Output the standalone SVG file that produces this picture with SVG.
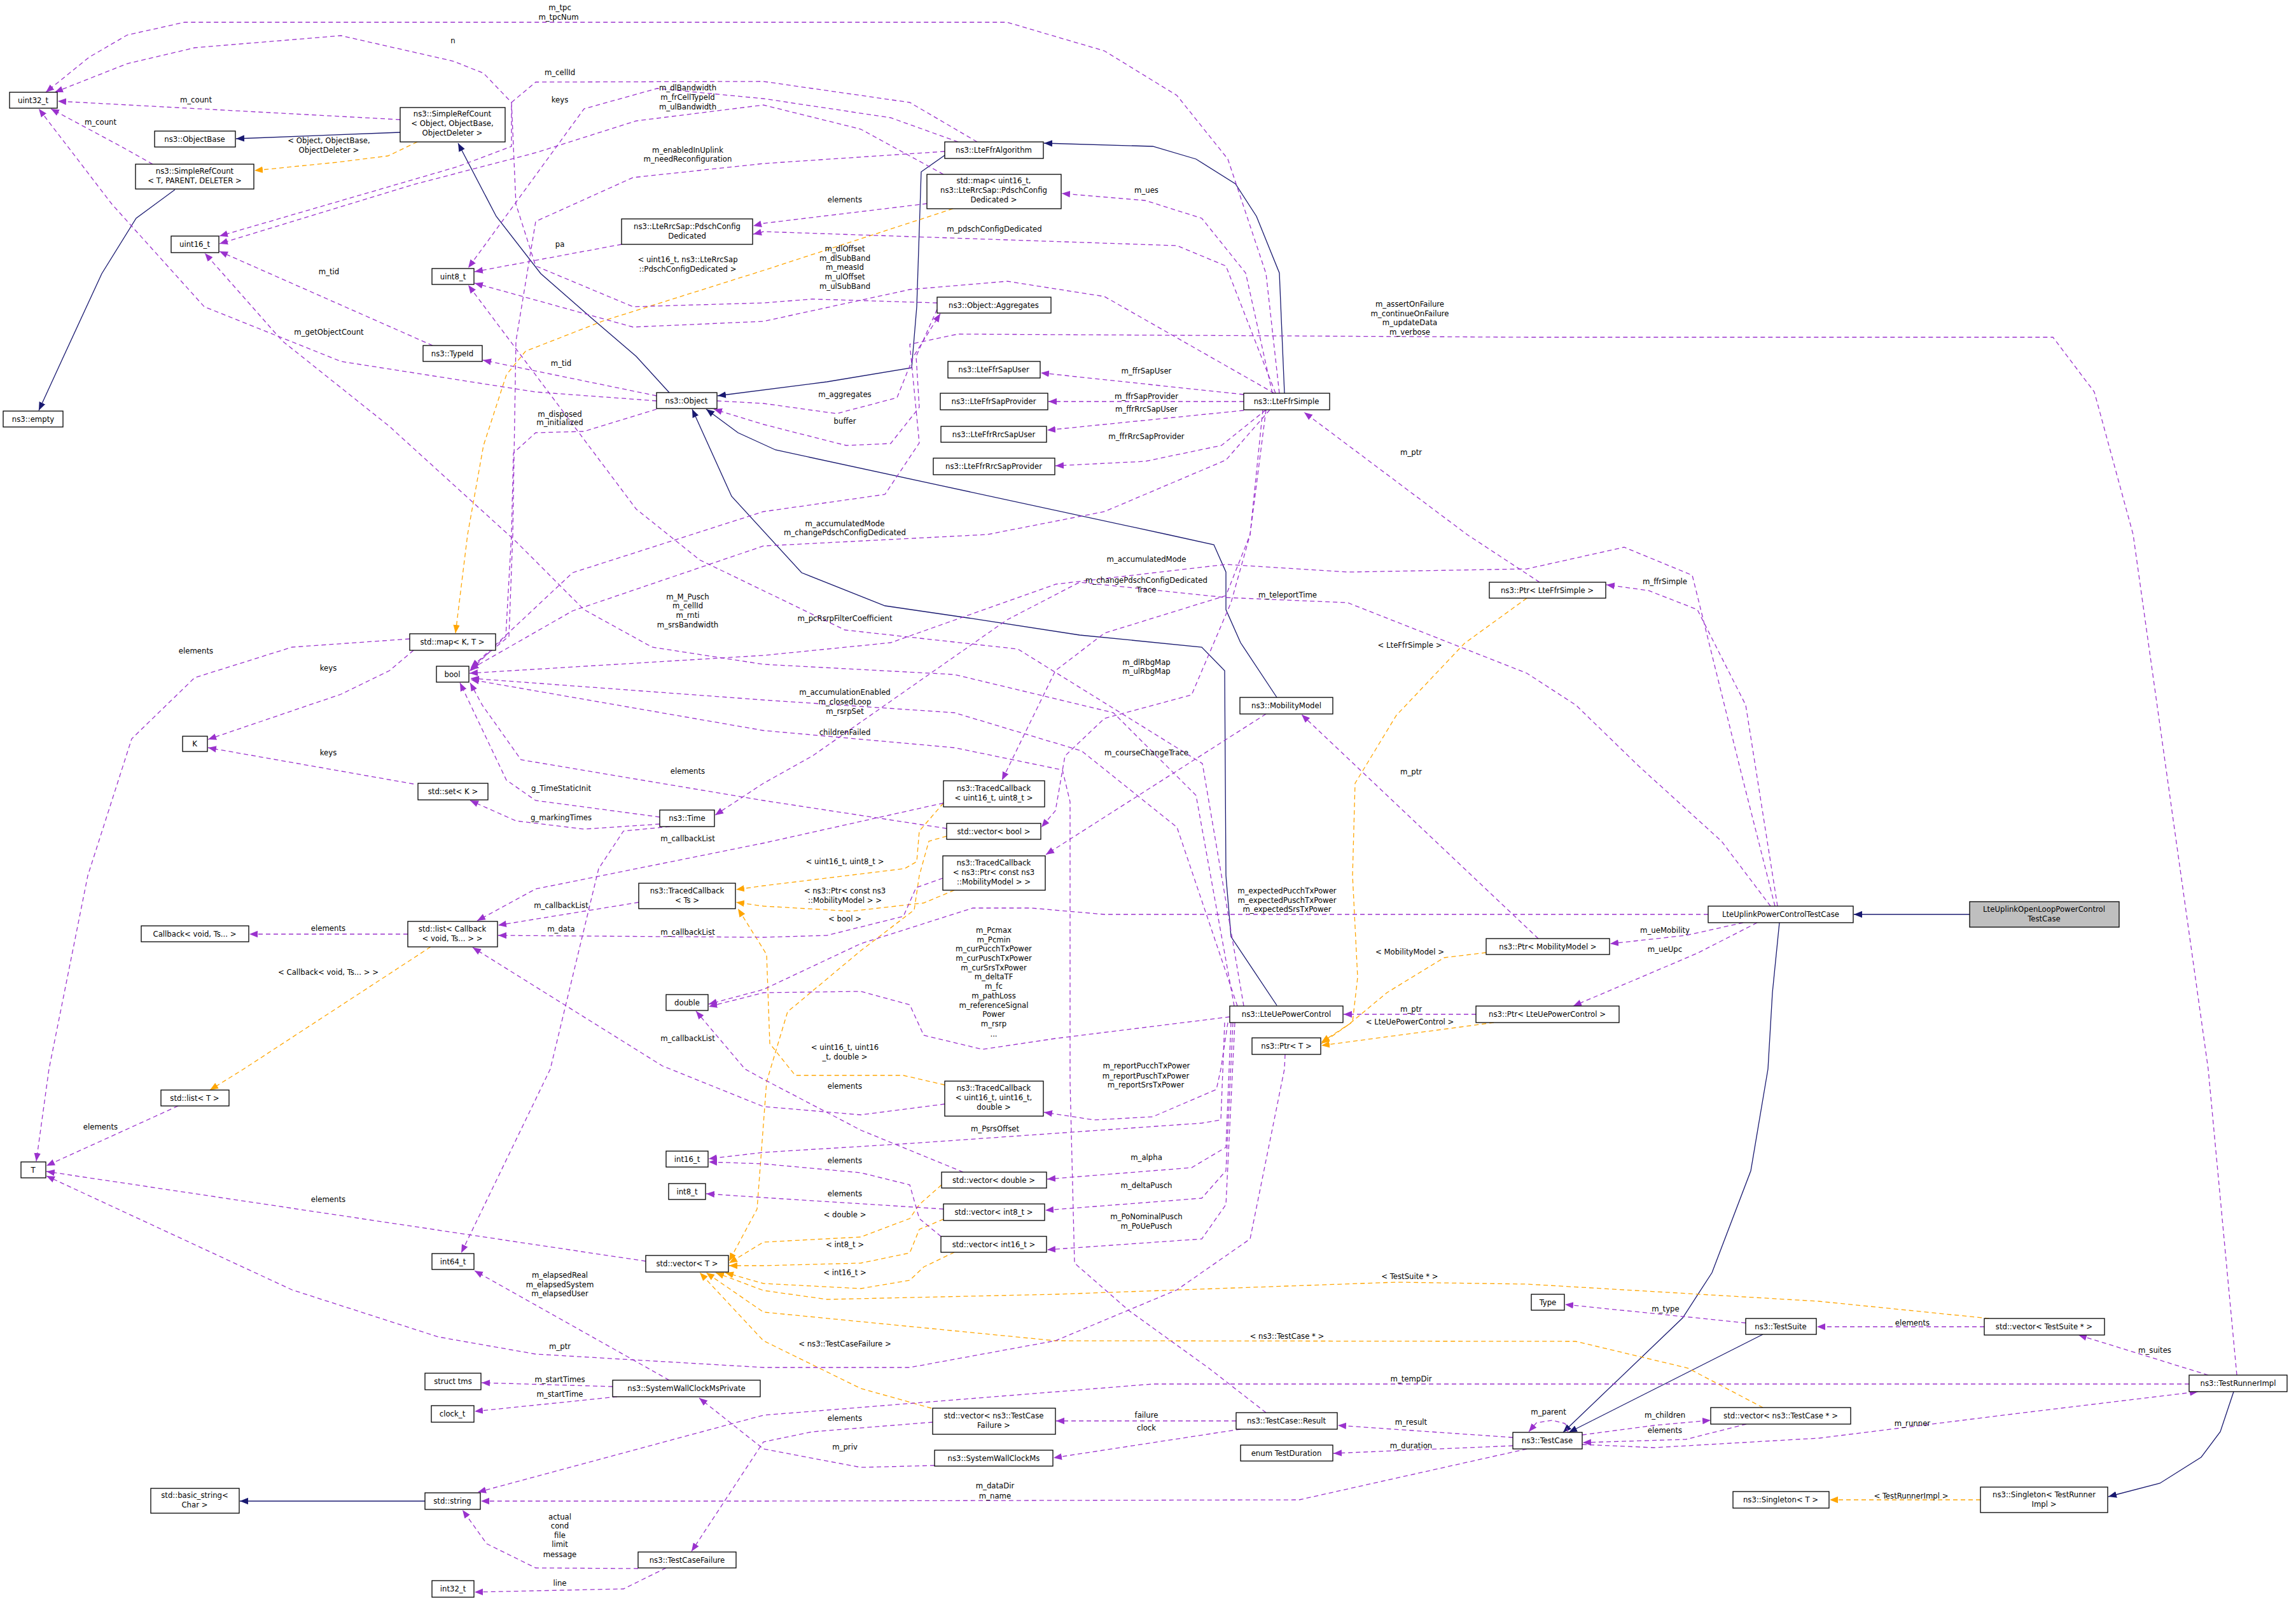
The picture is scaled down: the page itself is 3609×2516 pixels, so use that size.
<svg xmlns="http://www.w3.org/2000/svg" width="3609" height="2516" viewBox="0 0 3609 2516">
<style>
text{font-family:"DejaVu Sans Condensed","DejaVu Sans","Liberation Sans",sans-serif;font-size:13px;fill:#000;text-anchor:middle}
.n rect{fill:#fff;stroke:#000;stroke-width:1.3}
.g rect{fill:#bfbfbf;stroke:#000;stroke-width:1.3}
.e{fill:none;stroke:#9a32cd;stroke-width:1.3;stroke-dasharray:7,5;marker-end:url(#ap)}
.t{fill:none;stroke:#ffa500;stroke-width:1.3;stroke-dasharray:7,5;marker-end:url(#ao)}
.i{fill:none;stroke:#191970;stroke-width:1.3;marker-end:url(#an)}
</style>
<defs>
<marker id="ap" viewBox="0 0 10 10" refX="10" refY="5" markerWidth="13" markerHeight="13" markerUnits="userSpaceOnUse" orient="auto"><path d="M0,1L10,5L0,9z" fill="#9a32cd"/></marker>
<marker id="ao" viewBox="0 0 10 10" refX="10" refY="5" markerWidth="13" markerHeight="13" markerUnits="userSpaceOnUse" orient="auto"><path d="M0,1L10,5L0,9z" fill="#ffa500"/></marker>
<marker id="an" viewBox="0 0 10 10" refX="10" refY="5" markerWidth="13" markerHeight="13" markerUnits="userSpaceOnUse" orient="auto"><path d="M0,1L10,5L0,9z" fill="#191970"/></marker>
</defs>
<rect width="3609" height="2516" fill="#fff"/>
<g id="connectors">
<path class="i" d="M629,208L371,218"/>
<path class="i" d="M1052,617L1000,560L930,500L850,430L780,340L720,225"/>
<path class="i" d="M275,298L214,343L160,430L100,560L61,645"/>
<path class="i" d="M1485,244L1448,270L1441,482L1433,578L1300,600L1128,622"/>
<path class="i" d="M2019,618L2011,429L1975,340L1942,289L1880,250L1812,230L1641,225"/>
<path class="i" d="M2007,1096L1950,1010L1927,958L1927,899L1908,856L1835,840L1219,707L1160,680L1110,643"/>
<path class="i" d="M2007,1580L1935,1472L1927,1376L1925,1054L1889,1017L1697,998L1521,971L1391,952L1260,900L1150,780L1088,643"/>
<path class="i" d="M2797,1450L2786,1560L2779,1680L2752,1840L2691,2000L2645,2071L2457,2251"/>
<path class="i" d="M2771,2097L2466,2251"/>
<path class="i" d="M3096,1437L2914,1437"/>
<path class="i" d="M3511,2187L3490,2250L3460,2290L3395,2331L3314,2352"/>
<path class="i" d="M668,2359L377,2359"/>
<path class="t" d="M656,223L610,245L530,255L400,268"/>
<path class="t" d="M1498,328L1200,425L949,504L826,552L796,589L760,700L735,840L716,995"/>
<path class="t" d="M1483,1262L1445,1306L1441,1354L1422,1365L1200,1392L1157,1398"/>
<path class="t" d="M1500,1399L1452,1419L1338,1432L1200,1424L1157,1418"/>
<path class="t" d="M677,1488L383,1680L330,1713"/>
<path class="t" d="M1485,1705L1420,1690L1250,1690L1210,1640L1205,1500L1160,1428"/>
<path class="t" d="M1488,1314L1460,1322L1445,1376L1437,1430L1353,1494L1238,1590L1205,1700L1190,1900L1146,1982"/>
<path class="t" d="M1480,1862L1445,1893L1430,1915L1353,1944L1200,1952L1146,1985"/>
<path class="t" d="M1483,1916L1445,1932L1430,1969L1353,1985L1200,1989L1146,1989"/>
<path class="t" d="M1500,1968L1452,1991L1430,2012L1353,2025L1200,2017L1140,2000"/>
<path class="t" d="M3127,2072L2859,2045L2400,2018L2195,2015L1659,2034L1300,2042L1200,2028L1125,2000"/>
<path class="t" d="M2771,2212L2653,2150L2477,2108L1659,2107L1200,2062L1110,2000"/>
<path class="t" d="M1464,2213L1353,2182L1200,2107L1100,2000"/>
<path class="t" d="M2400,940L2302,1011L2195,1124L2130,1231L2126,1376L2134,1536L2126,1606L2077,1638"/>
<path class="t" d="M2336,1497L2270,1505L2180,1560L2120,1610L2077,1640"/>
<path class="t" d="M2348,1607L2077,1643"/>
<path class="t" d="M3113,2357L2876,2357"/>
<path class="e" d="M2011,618L1990,430L1930,250L1850,150L1736,80L1583,35L290,35L200,55L140,90L72,145"/>
<path class="e" d="M1473,476L1277,470L1200,476L995,482L842,418L811,321L804,161L760,115L712,96L536,56L306,75L200,100L86,145"/>
<path class="e" d="M629,188L91,159"/>
<path class="e" d="M240,258L190,230L80,171"/>
<path class="e" d="M1536,223L1430,161L1200,128L842,129L804,161L804,230L719,262L345,371"/>
<path class="e" d="M1483,274L1353,203L1200,165L1000,190L842,240L650,290L345,383"/>
<path class="e" d="M1506,223L1400,185L1200,155L1033,139L918,171L736,421"/>
<path class="e" d="M1485,238L1200,257L995,279L842,348L811,536L806,840L800,1000L740,1049"/>
<path class="e" d="M977,384L746,427"/>
<path class="e" d="M680,543L345,395"/>
<path class="e" d="M1032,630L842,616L536,568L321,482L176,321L61,171"/>
<path class="e" d="M1032,622L759,566"/>
<path class="e" d="M1032,643L918,678L842,680L807,712L804,840L795,1000L738,1055"/>
<path class="e" d="M1457,320L1200,351L1184,355"/>
<path class="e" d="M2000,618L1958,429L1889,343L1800,315L1669,304"/>
<path class="e" d="M2005,618L1927,418L1850,386L1200,364L1184,368"/>
<path class="e" d="M2003,618L1736,466L1583,442L1430,455L1200,505L995,514L746,445"/>
<path class="e" d="M1127,630L1200,634L1315,650L1410,625L1436,560L1478,493"/>
<path class="e" d="M1473,486L1440,560L1445,640L1400,697L1330,700L1200,667L1122,643"/>
<path class="e" d="M1955,620L1636,586"/>
<path class="e" d="M1955,631L1648,631"/>
<path class="e" d="M1955,645L1646,676"/>
<path class="e" d="M1990,644L1920,700L1800,725L1659,732"/>
<path class="e" d="M3516,2161L3471,1680L3353,840L3292,616L3227,530L2400,530L1506,525L1430,541L1445,696L1391,777L1200,804L900,900L740,1050"/>
<path class="e" d="M2420,915L2306,840L2050,648"/>
<path class="e" d="M1996,644L1927,723L1736,804L1552,840L1200,858L900,960L739,1052"/>
<path class="e" d="M1990,644L1965,840L1927,936L1736,995L1659,1054L1575,1226"/>
<path class="e" d="M2783,1424L2706,1322L2576,1204L2477,1108L2400,1058L2118,947L1927,939L1697,915L1583,974L1430,1081L1277,1188L1200,1231L1124,1281"/>
<path class="e" d="M2790,1424L2737,1215L2660,904L2553,860L2400,894L2118,899L1927,887L1660,918L1400,1010L1200,1030L738,1058"/>
<path class="e" d="M1955,1581L1890,1200L1600,1020L1328,990L1100,880L1000,800L820,560L736,448"/>
<path class="e" d="M1940,1581L1880,1250L1750,1120L1500,1060L1200,1044L1025,1017L918,958L811,851L612,670L444,536L322,398"/>
<path class="e" d="M1985,644L1965,840L1935,947L1873,1092L1736,1129L1674,1188L1659,1274L1637,1300"/>
<path class="e" d="M1945,1581L1850,1300L1700,1180L1500,1120L1200,1100L740,1066"/>
<path class="e" d="M1990,2220L1900,2150L1775,2060L1689,1985L1682,1700L1682,1260L1670,1210L1500,1175L1200,1148L740,1068"/>
<path class="e" d="M1990,1122L1644,1343"/>
<path class="e" d="M2418,1475L2046,1123"/>
<path class="e" d="M2685,1437L1736,1437L1621,1427L1529,1427L1353,1483L1200,1555L1114,1578"/>
<path class="e" d="M1933,1598L1659,1632L1544,1649L1452,1627L1430,1579L1353,1558L1200,1560L1114,1582"/>
<path class="e" d="M2320,1594L2112,1594"/>
<path class="e" d="M1930,1607L1919,1680L1912,1712L1812,1755L1720,1760L1641,1748"/>
<path class="e" d="M1925,1607L1919,1760L1889,1765L1430,1797L1200,1811L1114,1821"/>
<path class="e" d="M1935,1607L1927,1803L1873,1835L1646,1853"/>
<path class="e" d="M1938,1607L1927,1840L1889,1883L1643,1902"/>
<path class="e" d="M1941,1607L1927,1893L1889,1947L1646,1964"/>
<path class="e" d="M1514,1842L1353,1776L1200,1696L1171,1680L1094,1589"/>
<path class="e" d="M1479,1943L1445,1915L1430,1862L1353,1843L1200,1829L1114,1826"/>
<path class="e" d="M1483,1900L1200,1882L1110,1876"/>
<path class="e" d="M1485,1735L1353,1752L1200,1739L1041,1675L743,1489"/>
<path class="e" d="M1483,1262L1200,1325L842,1397L750,1447"/>
<path class="e" d="M1004,1418L783,1454"/>
<path class="e" d="M1482,1380L1440,1395L1420,1440L1300,1470L1200,1473L783,1470"/>
<path class="e" d="M1053,1299L980,1306L941,1365L865,1680L725,1969"/>
<path class="e" d="M641,1468L392,1468"/>
<path class="e" d="M1037,1284L842,1258L796,1226L723,1073"/>
<path class="e" d="M1037,1295L918,1303L811,1290L739,1258"/>
<path class="e" d="M1488,1302L1200,1258L819,1194L758,1108L739,1073"/>
<path class="e" d="M644,1004L459,1017L306,1065L207,1161L138,1376L77,1680L57,1825"/>
<path class="e" d="M650,1022L612,1054L536,1091L327,1162"/>
<path class="e" d="M650,1232L327,1175"/>
<path class="e" d="M280,1738L73,1832"/>
<path class="e" d="M1015,1982L73,1841"/>
<path class="e" d="M2020,1657L2019,1680L1965,1947L1850,2027L1659,2107L1430,2149L1200,2149L842,2128L689,2101L459,2027L73,1848"/>
<path class="e" d="M1052,2169L746,1997"/>
<path class="e" d="M963,2179L757,2173"/>
<path class="e" d="M970,2195L746,2218"/>
<path class="e" d="M1469,2303L1353,2306L1200,2277L1099,2197"/>
<path class="e" d="M1466,2235L1277,2250L1200,2266L1087,2438"/>
<path class="e" d="M3441,2175L1812,2175L1200,2224L751,2345"/>
<path class="e" d="M2400,2277L2042,2357L1200,2359L756,2359"/>
<path class="e" d="M1003,2465L842,2464L765,2426L727,2373"/>
<path class="e" d="M1047,2464L980,2497L746,2502"/>
<path class="e" d="M1943,2233L1660,2233"/>
<path class="e" d="M1950,2246L1656,2291"/>
<path class="e" d="M2378,2259L2103,2240"/>
<path class="e" d="M2378,2272L2096,2284"/>
<path class="e" d="M2744,2079L2460,2050"/>
<path class="e" d="M3119,2085L2856,2085"/>
<path class="e" d="M3471,2161L3267,2098"/>
<path class="e" d="M2465,2251L2460,2237L2440,2232L2415,2236L2403,2250"/>
<path class="e" d="M2487,2255L2600,2240L2689,2232"/>
<path class="e" d="M2745,2238L2650,2262L2488,2267"/>
<path class="e" d="M2487,2270L2600,2275L2860,2260L3165,2222L3455,2187"/>
<path class="e" d="M2794,1424L2744,1108L2668,958L2591,928L2525,919"/>
<path class="e" d="M2740,1450L2650,1470L2531,1483"/>
<path class="e" d="M2762,1450L2668,1498L2473,1581"/>
</g>
<g id="edge-labels">
<text x="517" y="225">&lt; Object, ObjectBase,</text><text x="517" y="240">ObjectDeleter &gt;</text>
<text x="1081" y="412">&lt; uint16_t, ns3::LteRrcSap</text><text x="1081" y="427">::PdschConfigDedicated &gt;</text>
<text x="1328" y="1358">&lt; uint16_t, uint8_t &gt;</text>
<text x="1328" y="1448">&lt; bool &gt;</text>
<text x="1328" y="1404">&lt; ns3::Ptr&lt; const ns3</text><text x="1328" y="1419">::MobilityModel &gt; &gt;</text>
<text x="516" y="1532">&lt; Callback&lt; void, Ts... &gt; &gt;</text>
<text x="1328" y="1650">&lt; uint16_t, uint16</text><text x="1328" y="1665">_t, double &gt;</text>
<text x="1328" y="1913">&lt; double &gt;</text>
<text x="1328" y="1960">&lt; int8_t &gt;</text>
<text x="1328" y="2004">&lt; int16_t &gt;</text>
<text x="2216" y="2010">&lt; TestSuite * &gt;</text>
<text x="2023" y="2104">&lt; ns3::TestCase * &gt;</text>
<text x="1328" y="2116">&lt; ns3::TestCaseFailure &gt;</text>
<text x="2216" y="1018">&lt; LteFfrSimple &gt;</text>
<text x="2216" y="1500">&lt; MobilityModel &gt;</text>
<text x="2216" y="1610">&lt; LteUePowerControl &gt;</text>
<text x="3004" y="2355">&lt; TestRunnerImpl &gt;</text>
<text x="880" y="16">m_tpc</text><text x="878" y="31">m_tpcNum</text>
<text x="712" y="68">n</text>
<text x="308" y="161">m_count</text>
<text x="158" y="196">m_count</text>
<text x="880" y="118">m_cellId</text>
<text x="880" y="161">keys</text>
<text x="1081" y="142">m_dlBandwidth</text><text x="1081" y="157">m_frCellTypeId</text><text x="1081" y="172">m_ulBandwidth</text>
<text x="1081" y="240">m_enabledInUplink</text><text x="1081" y="254">m_needReconfiguration</text>
<text x="880" y="388">pa</text>
<text x="517" y="431">m_tid</text>
<text x="517" y="526">m_getObjectCount</text>
<text x="882" y="575">m_tid</text>
<text x="880" y="655">m_disposed</text><text x="880" y="668">m_initialized</text>
<text x="1328" y="318">elements</text>
<text x="1802" y="303">m_ues</text>
<text x="1563" y="364">m_pdschConfigDedicated</text>
<text x="1328" y="395">m_dlOffset</text><text x="1328" y="410">m_dlSubBand</text><text x="1328" y="424">m_measId</text><text x="1328" y="439">m_ulOffset</text><text x="1328" y="454">m_ulSubBand</text>
<text x="1328" y="624">m_aggregates</text>
<text x="1328" y="666">buffer</text>
<text x="1802" y="587">m_ffrSapUser</text>
<text x="1802" y="627">m_ffrSapProvider</text>
<text x="1802" y="647">m_ffrRrcSapUser</text>
<text x="1802" y="690">m_ffrRrcSapProvider</text>
<text x="2216" y="482">m_assertOnFailure</text><text x="2216" y="497">m_continueOnFailure</text><text x="2216" y="511">m_updateData</text><text x="2216" y="526">m_verbose</text>
<text x="2218" y="715">m_ptr</text>
<text x="1328" y="827">m_accumulatedMode</text><text x="1328" y="841">m_changePdschConfigDedicated</text>
<text x="1802" y="883">m_accumulatedMode</text>
<text x="1802" y="916">m_changePdschConfigDedicated</text><text x="1802" y="931">Trace</text>
<text x="2024" y="939">m_teleportTime</text>
<text x="1328" y="976">m_pcRsrpFilterCoefficient</text>
<text x="1081" y="942">m_M_Pusch</text><text x="1081" y="956">m_cellId</text><text x="1081" y="971">m_rnti</text><text x="1081" y="986">m_srsBandwidth</text>
<text x="1802" y="1045">m_dlRbgMap</text><text x="1802" y="1059">m_ulRbgMap</text>
<text x="1328" y="1092">m_accumulationEnabled</text><text x="1328" y="1107">m_closedLoop</text><text x="1328" y="1122">m_rsrpSet</text>
<text x="1328" y="1155">childrenFailed</text>
<text x="1802" y="1187">m_courseChangeTrace</text>
<text x="2218" y="1217">m_ptr</text>
<text x="2023" y="1404">m_expectedPucchTxPower</text><text x="2023" y="1419">m_expectedPuschTxPower</text><text x="2023" y="1433">m_expectedSrsTxPower</text>
<text x="1562" y="1466">m_Pcmax</text><text x="1562" y="1481">m_Pcmin</text><text x="1562" y="1495">m_curPucchTxPower</text><text x="1562" y="1510">m_curPuschTxPower</text><text x="1562" y="1525">m_curSrsTxPower</text><text x="1562" y="1539">m_deltaTF</text><text x="1562" y="1554">m_fc</text><text x="1562" y="1569">m_pathLoss</text><text x="1562" y="1584">m_referenceSignal</text><text x="1562" y="1598">Power</text><text x="1562" y="1613">m_rsrp</text><text x="1562" y="1629">...</text>
<text x="2218" y="1590">m_ptr</text>
<text x="1802" y="1679">m_reportPucchTxPower</text><text x="1801" y="1695">m_reportPuschTxPower</text><text x="1801" y="1709">m_reportSrsTxPower</text>
<text x="1564" y="1778">m_PsrsOffset</text>
<text x="1802" y="1823">m_alpha</text>
<text x="1802" y="1867">m_deltaPusch</text>
<text x="1802" y="1916">m_PoNominalPusch</text><text x="1802" y="1931">m_PoUePusch</text>
<text x="1328" y="1711">elements</text>
<text x="1328" y="1828">elements</text>
<text x="1328" y="1880">elements</text>
<text x="1081" y="1636">m_callbackList</text>
<text x="1081" y="1322">m_callbackList</text>
<text x="882" y="1427">m_callbackList</text>
<text x="882" y="1464">m_data</text>
<text x="1081" y="1469">m_callbackList</text>
<text x="516" y="1463">elements</text>
<text x="882" y="1243">g_TimeStaticInit</text>
<text x="882" y="1289">g_markingTimes</text>
<text x="1081" y="1216">elements</text>
<text x="308" y="1027">elements</text>
<text x="516" y="1054">keys</text>
<text x="516" y="1187">keys</text>
<text x="158" y="1775">elements</text>
<text x="516" y="1889">elements</text>
<text x="880" y="2120">m_ptr</text>
<text x="880" y="2008">m_elapsedReal</text><text x="880" y="2023">m_elapsedSystem</text><text x="880" y="2037">m_elapsedUser</text>
<text x="880" y="2172">m_startTimes</text>
<text x="880" y="2195">m_startTime</text>
<text x="1328" y="2278">m_priv</text>
<text x="1328" y="2233">elements</text>
<text x="2218" y="2171">m_tempDir</text>
<text x="1564" y="2339">m_dataDir</text><text x="1564" y="2355">m_name</text>
<text x="880" y="2388">actual</text><text x="880" y="2402">cond</text><text x="880" y="2417">file</text><text x="880" y="2431">limit</text><text x="880" y="2447">message</text>
<text x="880" y="2492">line</text>
<text x="1802" y="2228">failure</text>
<text x="1802" y="2248">clock</text>
<text x="2218" y="2239">m_result</text>
<text x="2218" y="2276">m_duration</text>
<text x="2618" y="2061">m_type</text>
<text x="3006" y="2083">elements</text>
<text x="3387" y="2126">m_suites</text>
<text x="2434" y="2223">m_parent</text>
<text x="2617" y="2228">m_children</text>
<text x="2617" y="2252">elements</text>
<text x="3006" y="2241">m_runner</text>
<text x="2617" y="918">m_ffrSimple</text>
<text x="2617" y="1466">m_ueMobility</text>
<text x="2617" y="1496">m_ueUpc</text>
</g>
<g id="n_uint32" class="n"><rect x="15" y="145" width="75" height="25"/><text x="52" y="162">uint32_t</text></g>
<g id="n_src_obj" class="n"><rect x="629" y="169" width="165" height="54"/><text x="711" y="183">ns3::SimpleRefCount</text><text x="711" y="198">&lt; Object, ObjectBase,</text><text x="711" y="213">ObjectDeleter &gt;</text></g>
<g id="n_objectbase" class="n"><rect x="243" y="206" width="127" height="25"/><text x="306" y="223">ns3::ObjectBase</text></g>
<g id="n_src_t" class="n"><rect x="213" y="258" width="186" height="39"/><text x="306" y="273">ns3::SimpleRefCount</text><text x="306" y="288">&lt; T, PARENT, DELETER &gt;</text></g>
<g id="n_uint16" class="n"><rect x="269" y="371" width="75" height="26"/><text x="306" y="388">uint16_t</text></g>
<g id="n_uint8" class="n"><rect x="679" y="422" width="66" height="25"/><text x="712" y="439">uint8_t</text></g>
<g id="n_pdsch" class="n"><rect x="977" y="344" width="206" height="40"/><text x="1080" y="360">ns3::LteRrcSap::PdschConfig</text><text x="1080" y="375">Dedicated</text></g>
<g id="n_typeid" class="n"><rect x="665" y="543" width="93" height="25"/><text x="711" y="560">ns3::TypeId</text></g>
<g id="n_object" class="n"><rect x="1032" y="617" width="95" height="25"/><text x="1079" y="634">ns3::Object</text></g>
<g id="n_empty" class="n"><rect x="5" y="646" width="94" height="25"/><text x="52" y="663">ns3::empty</text></g>
<g id="n_ffralgo" class="n"><rect x="1485" y="223" width="155" height="26"/><text x="1562" y="240">ns3::LteFfrAlgorithm</text></g>
<g id="n_map_pdsch" class="n"><rect x="1457" y="274" width="211" height="54"/><text x="1562" y="288">std::map&lt; uint16_t,</text><text x="1562" y="303">ns3::LteRrcSap::PdschConfig</text><text x="1562" y="318">Dedicated &gt;</text></g>
<g id="n_aggregates" class="n"><rect x="1473" y="467" width="179" height="25"/><text x="1562" y="484">ns3::Object::Aggregates</text></g>
<g id="n_ffrsapuser" class="n"><rect x="1490" y="568" width="145" height="26"/><text x="1562" y="585">ns3::LteFfrSapUser</text></g>
<g id="n_ffrsapprov" class="n"><rect x="1478" y="618" width="169" height="26"/><text x="1562" y="635">ns3::LteFfrSapProvider</text></g>
<g id="n_ffrrrcuser" class="n"><rect x="1479" y="670" width="166" height="25"/><text x="1562" y="687">ns3::LteFfrRrcSapUser</text></g>
<g id="n_ffrrrcprov" class="n"><rect x="1467" y="720" width="191" height="26"/><text x="1562" y="737">ns3::LteFfrRrcSapProvider</text></g>
<g id="n_ffrsimple" class="n"><rect x="1955" y="618" width="135" height="26"/><text x="2022" y="635">ns3::LteFfrSimple</text></g>
<g id="n_map_kt" class="n"><rect x="644" y="996" width="135" height="26"/><text x="711" y="1013">std::map&lt; K, T &gt;</text></g>
<g id="n_bool" class="n"><rect x="686" y="1047" width="51" height="25"/><text x="711" y="1064">bool</text></g>
<g id="n_k" class="n"><rect x="287" y="1157" width="39" height="24"/><text x="306" y="1173">K</text></g>
<g id="n_set_k" class="n"><rect x="657" y="1231" width="110" height="26"/><text x="712" y="1248">std::set&lt; K &gt;</text></g>
<g id="n_time" class="n"><rect x="1037" y="1273" width="86" height="26"/><text x="1080" y="1290">ns3::Time</text></g>
<g id="n_tc_ts" class="n"><rect x="1004" y="1388" width="152" height="40"/><text x="1080" y="1404">ns3::TracedCallback</text><text x="1080" y="1419">&lt; Ts &gt;</text></g>
<g id="n_list_cb" class="n"><rect x="641" y="1448" width="141" height="40"/><text x="711" y="1464">std::list&lt; Callback</text><text x="711" y="1479">&lt; void, Ts... &gt; &gt;</text></g>
<g id="n_callback" class="n"><rect x="222" y="1455" width="169" height="25"/><text x="306" y="1472">Callback&lt; void, Ts... &gt;</text></g>
<g id="n_double" class="n"><rect x="1047" y="1563" width="66" height="25"/><text x="1080" y="1580">double</text></g>
<g id="n_tc_u16u8" class="n"><rect x="1483" y="1227" width="159" height="41"/><text x="1562" y="1243">ns3::TracedCallback</text><text x="1562" y="1258">&lt; uint16_t, uint8_t &gt;</text></g>
<g id="n_vec_bool" class="n"><rect x="1488" y="1294" width="148" height="25"/><text x="1562" y="1311">std::vector&lt; bool &gt;</text></g>
<g id="n_tc_mm" class="n"><rect x="1482" y="1345" width="161" height="54"/><text x="1562" y="1360">ns3::TracedCallback</text><text x="1562" y="1375">&lt; ns3::Ptr&lt; const ns3</text><text x="1562" y="1390">::MobilityModel &gt; &gt;</text></g>
<g id="n_mobility" class="n"><rect x="1949" y="1096" width="146" height="26"/><text x="2022" y="1113">ns3::MobilityModel</text></g>
<g id="n_lupc" class="n"><rect x="1933" y="1581" width="178" height="26"/><text x="2022" y="1598">ns3::LteUePowerControl</text></g>
<g id="n_ptr_t" class="n"><rect x="1968" y="1631" width="108" height="26"/><text x="2022" y="1648">ns3::Ptr&lt; T &gt;</text></g>
<g id="n_ptr_ffr" class="n"><rect x="2341" y="915" width="183" height="25"/><text x="2432" y="932">ns3::Ptr&lt; LteFfrSimple &gt;</text></g>
<g id="n_ptr_mm" class="n"><rect x="2336" y="1475" width="194" height="25"/><text x="2433" y="1492">ns3::Ptr&lt; MobilityModel &gt;</text></g>
<g id="n_ptr_lupc" class="n"><rect x="2320" y="1581" width="225" height="26"/><text x="2432" y="1598">ns3::Ptr&lt; LteUePowerControl &gt;</text></g>
<g id="n_lupctc" class="n"><rect x="2685" y="1424" width="228" height="26"/><text x="2799" y="1441">LteUplinkPowerControlTestCase</text></g>
<g id="n_openloop" class="g"><rect x="3096" y="1417" width="235" height="40"/><text x="3213" y="1433">LteUplinkOpenLoopPowerControl</text><text x="3213" y="1448">TestCase</text></g>
<g id="n_list_t" class="n"><rect x="253" y="1713" width="107" height="25"/><text x="306" y="1730">std::list&lt; T &gt;</text></g>
<g id="n_t" class="n"><rect x="33" y="1826" width="39" height="25"/><text x="52" y="1843">T</text></g>
<g id="n_int16" class="n"><rect x="1047" y="1809" width="66" height="25"/><text x="1080" y="1826">int16_t</text></g>
<g id="n_int8" class="n"><rect x="1051" y="1860" width="58" height="25"/><text x="1080" y="1877">int8_t</text></g>
<g id="n_vec_t" class="n"><rect x="1015" y="1973" width="130" height="26"/><text x="1080" y="1990">std::vector&lt; T &gt;</text></g>
<g id="n_int64" class="n"><rect x="679" y="1970" width="66" height="25"/><text x="712" y="1987">int64_t</text></g>
<g id="n_tms" class="n"><rect x="668" y="2158" width="88" height="26"/><text x="712" y="2175">struct tms</text></g>
<g id="n_clock" class="n"><rect x="678" y="2209" width="67" height="26"/><text x="711" y="2226">clock_t</text></g>
<g id="n_swcmp" class="n"><rect x="963" y="2169" width="232" height="26"/><text x="1079" y="2186">ns3::SystemWallClockMsPrivate</text></g>
<g id="n_basic_string" class="n"><rect x="237" y="2339" width="139" height="39"/><text x="306" y="2354">std::basic_string&lt;</text><text x="306" y="2369">Char &gt;</text></g>
<g id="n_string" class="n"><rect x="668" y="2346" width="87" height="26"/><text x="711" y="2363">std::string</text></g>
<g id="n_tcf" class="n"><rect x="1003" y="2439" width="154" height="25"/><text x="1080" y="2456">ns3::TestCaseFailure</text></g>
<g id="n_int32" class="n"><rect x="679" y="2484" width="66" height="26"/><text x="712" y="2501">int32_t</text></g>
<g id="n_tc_u16u16d" class="n"><rect x="1485" y="1699" width="155" height="55"/><text x="1562" y="1714">ns3::TracedCallback</text><text x="1562" y="1729">&lt; uint16_t, uint16_t,</text><text x="1562" y="1744">double &gt;</text></g>
<g id="n_vec_double" class="n"><rect x="1480" y="1842" width="165" height="25"/><text x="1562" y="1859">std::vector&lt; double &gt;</text></g>
<g id="n_vec_int8" class="n"><rect x="1483" y="1892" width="159" height="26"/><text x="1562" y="1909">std::vector&lt; int8_t &gt;</text></g>
<g id="n_vec_int16" class="n"><rect x="1479" y="1943" width="166" height="25"/><text x="1562" y="1960">std::vector&lt; int16_t &gt;</text></g>
<g id="n_vec_tcf" class="n"><rect x="1466" y="2213" width="193" height="41"/><text x="1562" y="2229">std::vector&lt; ns3::TestCase</text><text x="1562" y="2244">Failure &gt;</text></g>
<g id="n_swcm" class="n"><rect x="1469" y="2279" width="186" height="25"/><text x="1562" y="2296">ns3::SystemWallClockMs</text></g>
<g id="n_result" class="n"><rect x="1943" y="2220" width="159" height="26"/><text x="2022" y="2237">ns3::TestCase::Result</text></g>
<g id="n_duration" class="n"><rect x="1950" y="2271" width="145" height="25"/><text x="2022" y="2288">enum TestDuration</text></g>
<g id="n_testcase" class="n"><rect x="2378" y="2251" width="109" height="26"/><text x="2432" y="2268">ns3::TestCase</text></g>
<g id="n_type" class="n"><rect x="2407" y="2034" width="52" height="25"/><text x="2433" y="2051">Type</text></g>
<g id="n_testsuite" class="n"><rect x="2744" y="2072" width="111" height="25"/><text x="2799" y="2089">ns3::TestSuite</text></g>
<g id="n_vec_ts" class="n"><rect x="3119" y="2072" width="189" height="26"/><text x="3213" y="2089">std::vector&lt; TestSuite * &gt;</text></g>
<g id="n_runner" class="n"><rect x="3441" y="2161" width="154" height="26"/><text x="3518" y="2178">ns3::TestRunnerImpl</text></g>
<g id="n_vec_tc" class="n"><rect x="2689" y="2212" width="220" height="26"/><text x="2799" y="2229">std::vector&lt; ns3::TestCase * &gt;</text></g>
<g id="n_singleton_t" class="n"><rect x="2724" y="2344" width="151" height="26"/><text x="2799" y="2361">ns3::Singleton&lt; T &gt;</text></g>
<g id="n_singleton_tri" class="n"><rect x="3113" y="2337" width="200" height="40"/><text x="3213" y="2353">ns3::Singleton&lt; TestRunner</text><text x="3213" y="2368">Impl &gt;</text></g>
</svg>
